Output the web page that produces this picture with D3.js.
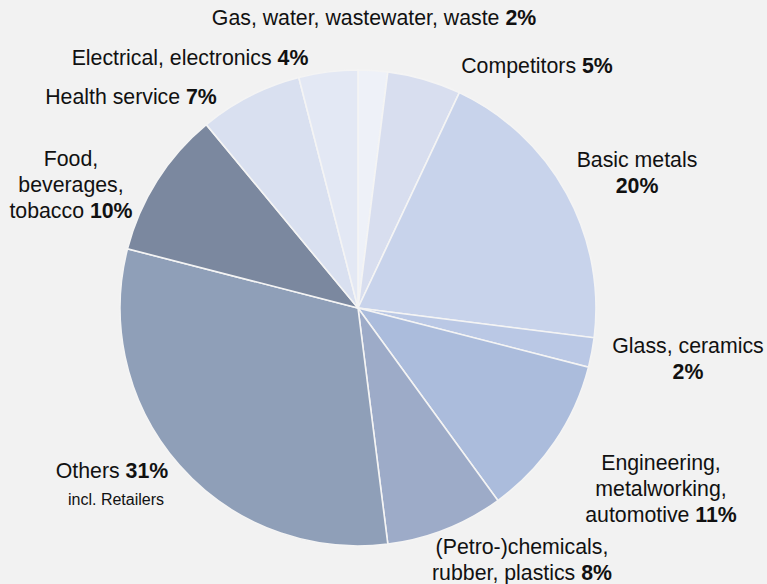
<!DOCTYPE html>
<html>
<head>
<meta charset="utf-8">
<script src="https://cdn.jsdelivr.net/npm/d3@7"></script>
<style>
  body { margin: 0; background: #f2f2f2; }
  text { font-family: "Liberation Sans", Arial, sans-serif; fill: #111; }
</style>
</head>
<body>
<div id="chart"></div>
<script>
// chart size
var width = 767;
var height = 584;

// data, clockwise from 12 o'clock
const sectors = ["Gas, water, wastewater, waste", "Competitors", "Basic metals", "Glass, ceramics",
  "Engineering, metalworking, automotive", "(Petro-)chemicals, rubber, plastics", "Others",
  "Food, beverages, tobacco", "Health service", "Electrical, electronics"];
const shares = [2, 5, 20, 2, 11, 8, 31, 10, 7, 4];
const colors = ["#eef1f8", "#d8deef", "#c8d3eb", "#bac8e5", "#abbcdc",
  "#9dabc8", "#8f9fb8", "#7b889f", "#d9e0f0", "#e3e8f4"];
// label lines per sector (last line gets the bold percentage)
const labelLines = [
  ["Gas, water, wastewater, waste"],
  ["Competitors"],
  ["Basic metals", ""],
  ["Glass, ceramics", ""],
  ["Engineering,", "metalworking,", "automotive"],
  ["(Petro-)chemicals,", "rubber, plastics"],
  ["Others"],
  ["Food,", "beverages,", "tobacco"],
  ["Health service"],
  ["Electrical, electronics"]
];
const labelPos = [[374, 25], [537, 73], [637, 167], [688, 353], [661, 470],
  [522, 554], [112, 478], [71, 166], [131, 104], [190, 65]];

let svg = d3.select("#chart")
  .append("svg")
  .attr("width", width)
  .attr("height", height);

let cx = 358, cy = 308, radius = 238;

let pie = d3.pie().sort(null).value(d => d);
let arc = d3.arc().innerRadius(0).outerRadius(radius);

let g = svg.append("g")
  .attr("transform", "translate(" + cx + "," + cy + ")");

g.selectAll("path")
  .data(pie(shares))
  .enter()
  .append("path")
  .attr("d", arc)
  .style("fill", (d, i) => colors[i])
  .style("stroke", "#f4f4f4")
  .style("stroke-width", 1.6);

// labels
labelLines.forEach((lines, i) => {
  let t = svg.append("text")
    .attr("text-anchor", "middle")
    .attr("x", labelPos[i][0])
    .attr("y", labelPos[i][1])
    .style("font-size", "21.3px");
  lines.forEach((line, j) => {
    let ts = t.append("tspan")
      .attr("x", labelPos[i][0])
      .attr("dy", j == 0 ? 0 : 26)
      .text(line);
    if (j == lines.length - 1) {
      ts.append("tspan")
        .style("font-weight", "bold")
        .text((line ? " " : "") + shares[i] + "%");
    }
  });
});

// note under Others
svg.append("text")
  .attr("text-anchor", "middle")
  .attr("x", 116)
  .attr("y", 505)
  .style("font-size", "16px")
  .text("incl. Retailers");
</script>
</body>
</html>
